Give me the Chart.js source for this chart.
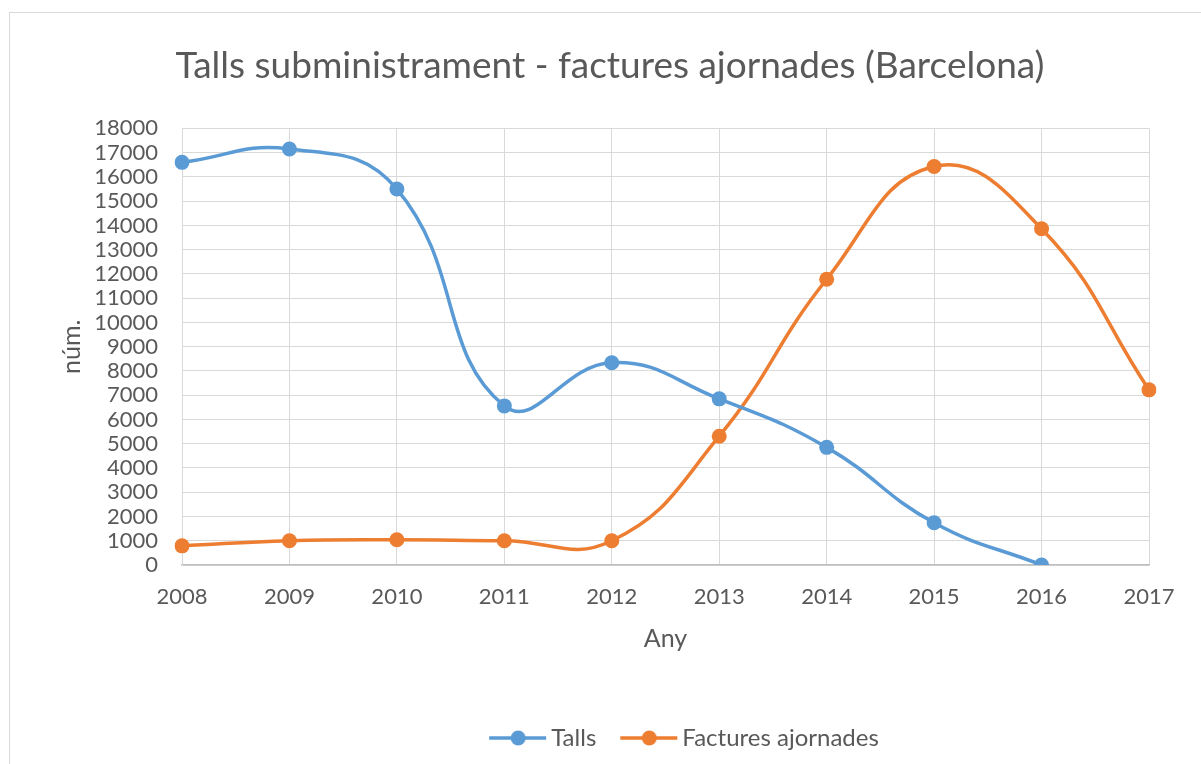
<!DOCTYPE html>
<html>
<head>
<meta charset="utf-8">
<script src="https://cdn.jsdelivr.net/npm/chart.js@4/dist/chart.umd.min.js"></script>
<style>
html,body{margin:0;padding:0;background:#fff;}
#wrap{position:absolute;left:0;top:0;width:1201px;height:764px;overflow:hidden;}
#frame{position:absolute;left:9px;top:12px;width:1400px;height:900px;border:1px solid #d9d9d9;}
#c{position:absolute;left:0;top:0;}
</style>
</head>
<body>
<div id="wrap">
<div id="frame"></div>
<canvas id="c" width="1201" height="764"></canvas>
</div>
<script>
const years = ['2008','2009','2010','2011','2012','2013','2014','2015','2016','2017'];
const talls = [16600, 17150, 15500, 6560, 8340, 6850, 4850, 1740, 0, null];
const factures = [790, 1000, 1040, 1000, 1000, 5310, 11780, 16430, 13860, 7220];
const yTicksMin = 0, yTicksMax = 18000, yTicksStep = 1000;

const FONT = 'Lato';
const TXT = '#595959';
const BLUE = '#5B9BD5';
const ORANGE = '#ED7D31';

function legendMarker(color){
  const cv = document.createElement('canvas');
  cv.width = 74; cv.height = 18;
  const g = cv.getContext('2d');
  g.strokeStyle = color; g.lineWidth = 3.5;
  g.beginPath(); g.moveTo(16,9); g.lineTo(73,9); g.stroke();
  g.fillStyle = color;
  g.beginPath(); g.arc(45,9,7.5,0,Math.PI*2); g.fill();
  return cv;
}

const shiftBlocks = {
  id: 'shiftBlocks',
  afterLayout(chart){
    const t = chart.titleBlock;
    if (t) { t.left = 2*610 - t.right; }
    const l = chart.legend;
    if (l) { l.left = 2*680 - l.right; }
  }
};

new Chart(document.getElementById('c'), {
  type: 'line',
  data: {
    labels: years,
    datasets: [
      {label:'Talls', data: talls, borderColor: BLUE, backgroundColor: BLUE,
       borderWidth: 3.5, pointRadius: 7.5, pointHoverRadius: 7.5, tension: 0.45,
       pointStyle: 'circle', pointBorderWidth: 0},
      {label:'Factures ajornades', data: factures, borderColor: ORANGE, backgroundColor: ORANGE,
       borderWidth: 3.5, pointRadius: 7.5, pointHoverRadius: 7.5, tension: 0.45,
       pointStyle: 'circle', pointBorderWidth: 0}
    ]
  },
  plugins: [shiftBlocks],
  options: {
    responsive: false,
    animation: false,
    layout: {padding: {left: 10, right: 52, top: 0, bottom: 4}},
    plugins: {
      title: {display: true, text: 'Talls subministrament - factures ajornades (Barcelona)',
        color: TXT, font: {family: FONT, size: 37, weight: 'normal'},
        padding: {top: 44, bottom: 40}},
      legend: {position: 'bottom',
        labels: {
          color: TXT, font: {family: FONT, size: 24}, padding: 16,
          usePointStyle: true, pointStyleWidth: 58, boxHeight: 18,
          generateLabels(chart){
            return chart.data.datasets.map((d,i)=>({
              text: d.label, fillStyle: d.borderColor, strokeStyle: d.borderColor,
              pointStyle: legendMarker(d.borderColor), datasetIndex: i, hidden: false, lineWidth: 0,
              fontColor: TXT
            }));
          }
        }},
      tooltip: {enabled: false}
    },
    scales: {
      x: {
        type: 'category', offset: false,
        grid: {color: '#d9d9d9', lineWidth: 1, drawTicks: false, offset: false},
        border: {color: '#bfbfbf', width: 1.5},
        ticks: {color: TXT, font: {family: FONT, size: 22}, padding: 19, maxRotation: 0, autoSkip: false},
        title: {display: true, text: 'Any', color: TXT, font: {family: FONT, size: 25}, padding: {top: 4, bottom: 56}},
        afterFit(s){ s.height = 145; }
      },
      y: {
        min: yTicksMin, max: yTicksMax,
        grid: {color: '#d9d9d9', lineWidth: 1, drawTicks: false},
        border: {color: '#d9d9d9', width: 1},
        ticks: {color: TXT, font: {family: FONT, size: 22}, padding: 24, stepSize: yTicksStep, autoSkip: false,
          callback: v => String(v)},
        title: {display: true, text: 'núm.', color: TXT, font: {family: FONT, size: 25}, padding: {top: 47, bottom: 0}},
        afterFit(s){ s.width = 172; }
      }
    }
  }
});
</script>
</body>
</html>
